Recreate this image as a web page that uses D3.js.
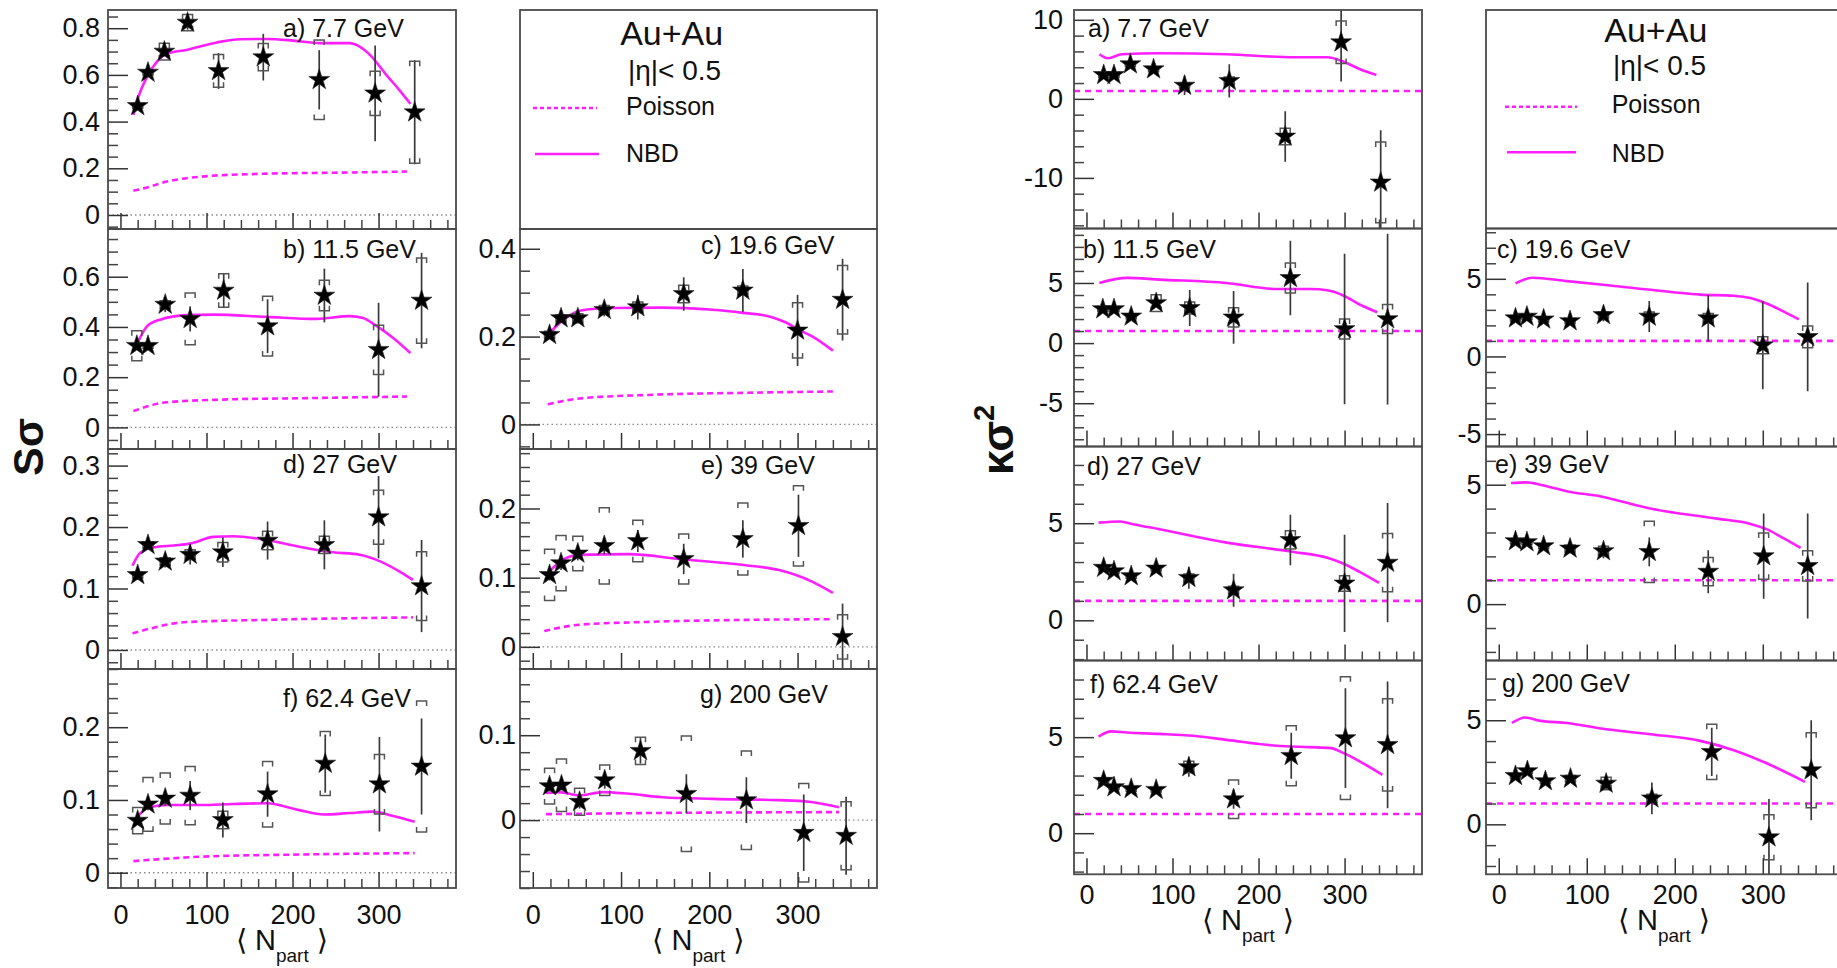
<!DOCTYPE html>
<html><head><meta charset="utf-8">
<script src="https://cdn.jsdelivr.net/npm/d3@7/dist/d3.min.js"></script>
<style>
html,body{margin:0;padding:0;background:#fff;overflow:hidden;}
svg text{font-family:"Liberation Sans",Arial,Helvetica,sans-serif;fill:#111;}
</style></head><body>
<svg id="chart" width="1837" height="968"></svg>
<script>
// ================= DATA =================
const energies = ["7.7", "11.5", "19.6", "27", "39", "62.4", "200"];
const panelLetters = ["a", "b", "c", "d", "e", "f", "g"];
const xTickValues = [0, 100, 200, 300];
const legendLabels = ["Poisson", "NBD"];
const systemLabel = "Au+Au";
const etaLabel = "|η|< 0.5";
const poissonKappa = 1;

// <Npart> of the data points
const npart_7p7  = [20, 32, 51, 78, 114, 166, 231, 296, 342];
const npart_11p5 = [19, 32, 52, 81, 120, 171, 237, 300, 350];
const npart_19p6 = [19, 32, 51, 81, 119, 171, 238, 300, 351];
const npart_27   = [20, 32, 52, 81, 119, 171, 237, 300, 350];
const npart_39   = [19, 32, 51, 81, 119, 171, 238, 301, 351];
const npart_62p4 = [20, 32, 52, 81, 119, 171, 238, 301, 350];
const npart_200  = [19, 32.5, 53, 81.5, 122, 174, 242, 307, 355];

// S sigma : values, statistical and systematic errors
const sSig_7p7  = [0.467, 0.61, 0.70, 0.824, 0.617, 0.676, 0.579, 0.521, 0.44];
const sStat_7p7 = [0.012, 0.015, 0.02, 0.03, 0.077, 0.10, 0.127, 0.205, 0.223];
const sSys_7p7  = [0.01, 0.01, 0.036, 0.035, 0.07, 0.058, 0.17, 0.095, 0.218];
const sSig_11p5  = [0.325, 0.325, 0.489, 0.432, 0.545, 0.403, 0.525, 0.309, 0.505];
const sStat_11p5 = [0.015, 0.015, 0.03, 0.05, 0.07, 0.107, 0.107, 0.187, 0.19];
const sSys_11p5  = [0.06, 0.01, 0.015, 0.103, 0.067, 0.119, 0.061, 0.098, 0.17];
const sSig_19p6  = [0.204, 0.242, 0.242, 0.261, 0.267, 0.297, 0.305, 0.214, 0.284];
const sStat_19p6 = [0.01, 0.01, 0.012, 0.015, 0.028, 0.038, 0.049, 0.081, 0.093];
const sSys_19p6  = [0.008, 0.008, 0.01, 0.01, 0.012, 0.02, 0.01, 0.063, 0.078];
const sSig_27  = [0.122, 0.171, 0.144, 0.155, 0.159, 0.178, 0.171, 0.216, 0.104];
const sStat_27 = [0.008, 0.008, 0.01, 0.016, 0.024, 0.031, 0.04, 0.067, 0.075];
const sSys_27  = [0.005, 0.005, 0.006, 0.008, 0.016, 0.015, 0.014, 0.044, 0.056];
const sSig_39  = [0.104, 0.121, 0.135, 0.146, 0.153, 0.127, 0.156, 0.175, 0.0145];
const sStat_39 = [0.008, 0.01, 0.01, 0.012, 0.016, 0.022, 0.027, 0.045, 0.048];
const sSys_39  = [0.037, 0.04, 0.025, 0.055, 0.03, 0.036, 0.052, 0.058, 0.032];
const sSig_62p4  = [0.0716, 0.094, 0.102, 0.106, 0.0725, 0.108, 0.150, 0.1216, 0.146];
const sStat_62p4 = [0.006, 0.008, 0.01, 0.02, 0.024, 0.031, 0.04, 0.065, 0.066];
const sSys_62p4  = [0.018, 0.037, 0.035, 0.04, 0.012, 0.045, 0.044, 0.041, 0.09];
const sSig_200  = [0.04, 0.041, 0.0216, 0.047, 0.0816, 0.031, 0.0235, -0.0149, -0.0184];
const sStat_200 = [0.006, 0.006, 0.008, 0.01, 0.015, 0.023, 0.027, 0.045, 0.046];
const sSys_200  = [0.021, 0.031, 0.016, 0.018, 0.016, 0.068, 0.058, 0.058, 0.04];

// S sigma model curves [Npart, value]
const sNbd_7p7 = [[15,0.429],[21,0.507],[31,0.593],[42.5,0.657],[54,0.69],[77,0.707],[112,0.739],[139,0.753],[170,0.754],[201,0.747],[232,0.736],[266,0.736],[278,0.721],[290,0.686],[309,0.6],[324,0.536],[337,0.476]];
const sPoi_7p7 = [[15,0.104],[27,0.114],[54,0.143],[93,0.164],[170,0.177],[247,0.181],[333,0.186]];
const sNbd_11p5 = [[19,0.33],[31,0.403],[46,0.429],[77,0.447],[108,0.449],[170,0.44],[228,0.432],[266,0.443],[282,0.436],[297,0.405],[317,0.356],[337,0.296]];
const sPoi_11p5 = [[15,0.065],[54,0.1],[131,0.112],[208,0.116],[333,0.123]];
const sNbd_19p6 = [[15,0.2],[30,0.23],[53,0.259],[91,0.265],[147,0.266],[204,0.261],[238,0.254],[268,0.246],[287,0.232],[302,0.215],[317,0.2],[340,0.168]];
const sPoi_19p6 = [[17,0.046],[53,0.059],[128,0.067],[241,0.072],[340,0.075]];
const sNbd_27 = [[14,0.137],[23,0.158],[39,0.167],[62,0.17],[81,0.173],[108,0.184],[131,0.185],[170,0.179],[208,0.168],[247,0.159],[278,0.155],[297,0.147],[324,0.128],[340,0.114]];
const sPoi_27 = [[14,0.027],[35,0.035],[73,0.045],[170,0.049],[340,0.053]];
const sNbd_39 = [[19,0.109],[34,0.126],[53,0.133],[109,0.134],[166,0.127],[241,0.118],[279,0.111],[317,0.094],[340,0.078]];
const sPoi_39 = [[13,0.023],[53,0.032],[128,0.036],[241,0.039],[340,0.04]];
const sNbd_62p4 = [[18,0.074],[31,0.089],[54,0.093],[93,0.093],[131,0.0945],[170,0.0954],[208,0.086],[236,0.080],[266,0.082],[293,0.084],[317,0.078],[342,0.07]];
const sPoi_62p4 = [[15,0.016],[93,0.022],[208,0.025],[342,0.027]];
const sNbd_200 = [[15,0.032],[30,0.033],[53,0.029],[79,0.033],[109,0.031],[147,0.027],[204,0.025],[279,0.0235],[313,0.0216],[347,0.015]];
const sPoi_200 = [[15,0.007],[166,0.0086],[347,0.0094]];

// kappa sigma^2 : values, statistical and systematic errors
const kSig_7p7  = [3.03, 3.03, 4.38, 3.75, 1.68, 2.27, -4.76, 7.16, -10.57];
const kStat_7p7 = [0.3, 0.3, 0.4, 0.4, 1.2, 2.1, 3.2, 4.95, 6.6];
const kSys_7p7  = [0.2, 0.2, 0.3, 0.3, 0.3, 0.5, 1.05, 2.7, 5.1];
const kSig_11p5  = [2.83, 2.83, 2.22, 3.33, 2.92, 2.14, 5.42, 1.17, 2.0];
const kStat_11p5 = [0.2, 0.2, 0.25, 0.3, 1.5, 2.2, 3.1, 6.25, 7.1];
const kSys_11p5  = [0.15, 0.15, 0.15, 0.7, 0.5, 0.8, 1.25, 0.83, 1.2];
const kSig_19p6  = [2.46, 2.57, 2.39, 2.28, 2.67, 2.57, 2.46, 0.72, 1.26];
const kStat_19p6 = [0.2, 0.2, 0.2, 0.2, 0.4, 1.0, 1.5, 2.83, 3.5];
const kSys_19p6  = [0.1, 0.1, 0.1, 0.1, 0.2, 0.3, 0.3, 0.55, 0.7];
const kSig_27  = [2.71, 2.53, 2.28, 2.67, 2.19, 1.55, 4.14, 1.9, 2.97];
const kStat_27 = [0.15, 0.15, 0.15, 0.2, 0.57, 0.85, 1.3, 2.5, 3.07];
const kSys_27  = [0.1, 0.1, 0.1, 0.1, 0.2, 0.2, 0.47, 0.4, 1.5];
const kSig_39  = [2.64, 2.6, 2.43, 2.33, 2.22, 2.19, 1.36, 2.01, 1.6];
const kStat_39 = [0.15, 0.15, 0.15, 0.2, 0.3, 0.6, 0.9, 1.78, 2.2];
const kSys_39  = [0.1, 0.1, 0.1, 0.15, 0.2, 1.28, 0.59, 0.97, 0.63];
const kSig_62p4  = [2.73, 2.4, 2.31, 2.26, 3.44, 1.77, 4.03, 4.95, 4.6];
const kStat_62p4 = [0.2, 0.15, 0.15, 0.15, 0.5, 0.5, 1.2, 2.6, 3.3];
const kSys_62p4  = [0.15, 0.1, 0.1, 0.1, 0.3, 1.0, 1.56, 3.2, 2.4];
const kSig_200  = [2.33, 2.56, 2.08, 2.2, 1.96, 1.25, 3.48, -0.62, 2.6];
const kStat_200 = [0.15, 0.15, 0.15, 0.2, 0.3, 0.76, 1.16, 1.84, 2.4];
const kSys_200  = [0.1, 0.1, 0.1, 0.15, 0.3, 0.2, 1.33, 1.08, 1.8];

// kappa sigma^2 NBD curves [Npart, value]
const kNbd_7p7 = [[15,5.64],[25,5.14],[41,5.64],[85,5.77],[163,5.64],[241,5.26],[280,5.26],[299,4.7],[318,3.75],[337,3.03]];
const kNbd_11p5 = [[15,5.0],[47,5.42],[85,5.28],[163,5.0],[221,4.5],[260,4.5],[280,4.39],[299,3.94],[318,3.19],[338,2.56]];
const kNbd_19p6 = [[19,4.7],[38,5.07],[78,4.85],[153,4.41],[229,3.98],[267,3.91],[286,3.76],[305,3.39],[324,2.89],[341,2.39]];
const kNbd_27 = [[14,5.03],[39,5.09],[54,4.95],[85,4.69],[163,4.0],[241,3.52],[280,3.22],[299,2.91],[318,2.48],[340,1.93]];
const kNbd_39 = [[14,5.07],[32,5.1],[47,5.0],[78,4.72],[116,4.51],[172,4.0],[248,3.58],[286,3.36],[305,3.13],[324,2.75],[343,2.36]];
const kNbd_62p4 = [[14,5.03],[29,5.3],[47,5.24],[85,5.17],[124,5.07],[163,4.86],[221,4.55],[260,4.48],[284,4.43],[299,4.17],[318,3.73],[344,3.04]];
const kNbd_200 = [[15,4.87],[30,5.13],[47,4.97],[78,4.87],[116,4.6],[172,4.33],[229,4.01],[267,3.56],[305,2.92],[348,2.04]];

// ================= LAYOUT / STYLE =================
const FONT = '"Liberation Sans", Arial, Helvetica, sans-serif';
const MAG = "#ff1eff";
const svg = d3.select("#chart");
const xDomain = [-14.5, 390];
const gridPos = [[0,0],[0,1],[1,1],[0,2],[1,2],[0,3],[1,3]];
const npartList = [npart_7p7, npart_11p5, npart_19p6, npart_27, npart_39, npart_62p4, npart_200];

const halves = [
  { kind: "S",
    cols: [[108,456],[520,877]], rows: [10,229,449,669,888],
    labEnd: [100,516], xLabBase: 35.5, xTitleBase: 62,
    vals: [sSig_7p7, sSig_11p5, sSig_19p6, sSig_27, sSig_39, sSig_62p4, sSig_200],
    stat: [sStat_7p7, sStat_11p5, sStat_19p6, sStat_27, sStat_39, sStat_62p4, sStat_200],
    sys:  [sSys_7p7, sSys_11p5, sSys_19p6, sSys_27, sSys_39, sSys_62p4, sSys_200],
    nbd:  [sNbd_7p7, sNbd_11p5, sNbd_19p6, sNbd_27, sNbd_39, sNbd_62p4, sNbd_200],
    poi:  [sPoi_7p7, sPoi_11p5, sPoi_19p6, sPoi_27, sPoi_39, sPoi_62p4, sPoi_200],
    domains: [[-0.06,0.878],[-0.086,0.79],[-0.056,0.445],[-0.031,0.327],[-0.032,0.286],[-0.021,0.28],[-0.08,0.178]],
    ticks: [[0.2,0.05],[0.2,0.05],[0.2,0.05],[0.1,0.02],[0.1,0.02],[0.1,0.02],[0.1,0.02]],
    labelPos: [[283,37],[283,257.7],[701,254.3],[283,473.3],[701,474.3],[283,707.3],[700,702.7]],
    legend: {au:[671.7,45], eta:[628,80], poi:[626,115], nbd:[626,161.7], poiLine:[533,597,108], nbdLine:[535,599,154]},
    yTitle: {x:43, y:447, size:43}
  },
  { kind: "K",
    cols: [[1074,1422],[1486,1842]], rows: [10,228.5,446.5,660.5,874.3],
    labEnd: [1063,1481.5], xLabBase: 30, xTitleBase: 56,
    vals: [kSig_7p7, kSig_11p5, kSig_19p6, kSig_27, kSig_39, kSig_62p4, kSig_200],
    stat: [kStat_7p7, kStat_11p5, kStat_19p6, kStat_27, kStat_39, kStat_62p4, kStat_200],
    sys:  [kSys_7p7, kSys_11p5, kSys_19p6, kSys_27, kSys_39, kSys_62p4, kSys_200],
    nbd:  [kNbd_7p7, kNbd_11p5, kNbd_19p6, kNbd_27, kNbd_39, kNbd_62p4, kNbd_200],
    poi:  null,
    domains: [[-16.4,11.24],[-8.6,9.53],[-5.8,8.24],[-2.07,8.95],[-2.36,6.6],[-2.14,8.99],[-2.4,7.87]],
    ticks: [[10,2],[5,1],[5,1],[5,1],[5,1],[5,1],[5,1]],
    labelPos: [[1088,37.3],[1083,258.3],[1497,258.3],[1087,475],[1495,473.3],[1090,693.3],[1502,691.7]],
    legend: {au:[1655.8,42], eta:[1613,75], poi:[1611.7,113], nbd:[1611.7,161.7], poiLine:[1505,1577,106.7], nbdLine:[1507,1576,152.3]},
    yTitle: {x:1013, y:440, size:45}
  }
];

function ticksStep(d0, d1, step) {
  const out = [];
  const i0 = Math.ceil(d0 / step - 1e-6), i1 = Math.floor(d1 / step + 1e-6);
  for (let i = i0; i <= i1; i++) out.push(+(i * step).toFixed(6));
  return out;
}
const fmt = v => String(+v.toFixed(4));

function noDomain(s) { s.select(".domain").remove(); }

function drawPanel(h, i) {
  const [c, r] = gridPos[i];
  const [x0, x1] = h.cols[c];
  const y0 = h.rows[r], y1 = h.rows[r + 1];
  const x = d3.scaleLinear().domain(xDomain).range([x0, x1]);
  const dom = h.domains[i];
  const y = d3.scaleLinear().domain(dom).range([y1, y0]);
  const id = `clip${h.kind}${i}`;
  svg.append("clipPath").attr("id", id).append("rect")
    .attr("x", x0).attr("y", y0).attr("width", x1 - x0).attr("height", y1 - y0);
  const g = svg.append("g");
  const plot = g.append("g").attr("clip-path", `url(#${id})`);
  const line = d3.line().x(d => x(d[0])).y(d => y(d[1])).curve(d3.curveMonotoneX);

  if (h.kind === "S") {
    plot.append("line").attr("x1", x0).attr("x2", x1).attr("y1", y(0)).attr("y2", y(0))
      .attr("stroke", "#8a8a8a").attr("stroke-width", 1.4).attr("stroke-dasharray", "1.5,3");
    plot.append("path").datum(h.poi[i]).attr("d", line).attr("fill", "none")
      .attr("stroke", MAG).attr("stroke-width", 2.6).attr("stroke-dasharray", "6,4");
  } else {
    plot.append("path").datum(xDomain.map(v => [v, poissonKappa])).attr("d", line).attr("fill", "none")
      .attr("stroke", MAG).attr("stroke-width", 2.6).attr("stroke-dasharray", "6,5");
  }
  plot.append("path").datum(h.nbd[i]).attr("d", line).attr("fill", "none")
    .attr("stroke", MAG).attr("stroke-width", 2.6);

  const pts = npartList[i].map((n, k) => ({ n, v: h.vals[i][k], st: h.stat[i][k], sy: h.sys[i][k] }));
  plot.selectAll(null).data(pts).join("line")
    .attr("x1", d => x(d.n)).attr("x2", d => x(d.n))
    .attr("y1", d => y(d.v + d.st)).attr("y2", d => y(d.v - d.st))
    .attr("stroke", "#3a3a3a").attr("stroke-width", 1.7);
  const bw = 5, bt = 5;
  plot.selectAll(null).data(pts).join("path")
    .attr("d", d => {
      const xc = x(d.n), yt = y(d.v + d.sy), yb = y(d.v - d.sy);
      return `M${xc - bw},${yt + bt}V${yt}H${xc + bw}V${yt + bt}M${xc - bw},${yb - bt}V${yb}H${xc + bw}V${yb - bt}`;
    })
    .attr("fill", "none").attr("stroke", "#555").attr("stroke-width", 1.5);
  g.selectAll(null).data(pts).join("path")
    .attr("d", d3.symbol(d3.symbolStar, 135))
    .attr("transform", d => `translate(${x(d.n)},${y(d.v)})`)
    .attr("fill", "#000").attr("stroke", "#222").attr("stroke-width", 0.6);

  // y axis ticks (inside) and labels
  const [maj, mnr] = h.ticks[i];
  const yMaj = ticksStep(dom[0], dom[1], maj);
  const yMin = ticksStep(dom[0], dom[1], mnr).filter(v => !yMaj.some(m => Math.abs(m - v) < 1e-9));
  g.append("g").attr("transform", `translate(${x0},0)`).attr("color", "#333")
    .call(d3.axisRight(y).tickValues(yMaj).tickSize(20).tickFormat("")).call(noDomain)
    .selectAll("line").attr("stroke-width", 1.5);
  g.append("g").attr("transform", `translate(${x0},0)`).attr("color", "#444")
    .call(d3.axisRight(y).tickValues(yMin).tickSize(10).tickFormat("")).call(noDomain)
    .selectAll("line").attr("stroke-width", 1.5);
  g.append("g").attr("transform", `translate(${x0},0)`)
    .call(d3.axisLeft(y).tickValues(yMaj).tickSize(0).tickPadding(x0 - h.labEnd[c]).tickFormat(fmt))
    .call(noDomain).attr("font-size", 27).attr("font-family", FONT);

  // x axis ticks (inside, from bottom)
  const xMin = ticksStep(xDomain[0], xDomain[1], 20).filter(v => !xTickValues.includes(v));
  g.append("g").attr("transform", `translate(0,${y1})`).attr("color", "#333")
    .call(d3.axisTop(x).tickValues(xTickValues).tickSize(16).tickFormat("")).call(noDomain)
    .selectAll("line").attr("stroke-width", 1.5);
  g.append("g").attr("transform", `translate(0,${y1})`).attr("color", "#444")
    .call(d3.axisTop(x).tickValues(xMin).tickSize(9).tickFormat("")).call(noDomain)
    .selectAll("line").attr("stroke-width", 1.5);
  if (r === 3) {
    g.append("g").attr("transform", `translate(0,${y1})`)
      .call(d3.axisBottom(x).tickValues(xTickValues).tickSize(0).tickPadding(h.xLabBase - 0.71 * 27).tickFormat(d3.format("d")))
      .call(noDomain).attr("font-size", 27).attr("font-family", FONT);
    const t = svg.append("text").attr("x", (x0 + x1) / 2).attr("y", Math.min(y1 + h.xTitleBase, 950))
      .attr("text-anchor", "middle").attr("font-size", 29);
    t.append("tspan").attr("font-family", "DejaVu Sans").attr("font-weight", 200).text("⟨");
    t.append("tspan").text(" N");
    t.append("tspan").attr("font-size", 19).attr("dy", 12).text("part");
    t.append("tspan").attr("dy", -12).text(" ");
    t.append("tspan").attr("font-family", "DejaVu Sans").text("⟩");
  }
  // frame
  g.append("rect").attr("x", x0).attr("y", y0).attr("width", x1 - x0).attr("height", y1 - y0)
    .attr("fill", "none").attr("stroke", "#4a4a4a").attr("stroke-width", 1.8);
  // panel label
  svg.append("text").attr("x", h.labelPos[i][0]).attr("y", h.labelPos[i][1]).attr("font-size", 25)
    .text(`${panelLetters[i]}) ${energies[i]} GeV`);
}

function drawLegend(h) {
  const [x0, x1] = h.cols[1];
  const y0 = h.rows[0], y1 = h.rows[1];
  svg.append("rect").attr("x", x0).attr("y", y0).attr("width", x1 - x0).attr("height", y1 - y0)
    .attr("fill", "none").attr("stroke", "#4a4a4a").attr("stroke-width", 1.8);
  const L = h.legend;
  svg.append("text").attr("x", L.au[0]).attr("y", L.au[1]).attr("text-anchor", "middle").attr("font-size", 34).text(systemLabel);
  svg.append("text").attr("x", L.eta[0]).attr("y", L.eta[1]).attr("font-size", 28).text(etaLabel);
  svg.append("text").attr("x", L.poi[0]).attr("y", L.poi[1]).attr("font-size", 25).text(legendLabels[0]);
  svg.append("text").attr("x", L.nbd[0]).attr("y", L.nbd[1]).attr("font-size", 25).text(legendLabels[1]);
  svg.append("line").attr("x1", L.poiLine[0]).attr("x2", L.poiLine[1]).attr("y1", L.poiLine[2]).attr("y2", L.poiLine[2])
    .attr("stroke", MAG).attr("stroke-width", 2.6).attr("stroke-dasharray", "4,3");
  svg.append("line").attr("x1", L.nbdLine[0]).attr("x2", L.nbdLine[1]).attr("y1", L.nbdLine[2]).attr("y2", L.nbdLine[2])
    .attr("stroke", MAG).attr("stroke-width", 2.6);
}

halves.forEach(h => {
  for (let i = 0; i < energies.length; i++) drawPanel(h, i);
  drawLegend(h);
  const yt = svg.append("text").attr("transform", `translate(${h.yTitle.x},${h.yTitle.y}) rotate(-90)`)
    .attr("text-anchor", "middle").attr("font-size", h.yTitle.size).attr("font-weight", "bold");
  if (h.kind === "S") {
    yt.text("Sσ");
  } else {
    yt.append("tspan").text("κσ");
    yt.append("tspan").attr("font-size", h.yTitle.size * 0.65).attr("dy", -h.yTitle.size * 0.42).text("2");
  }
});
</script>
</body></html>
